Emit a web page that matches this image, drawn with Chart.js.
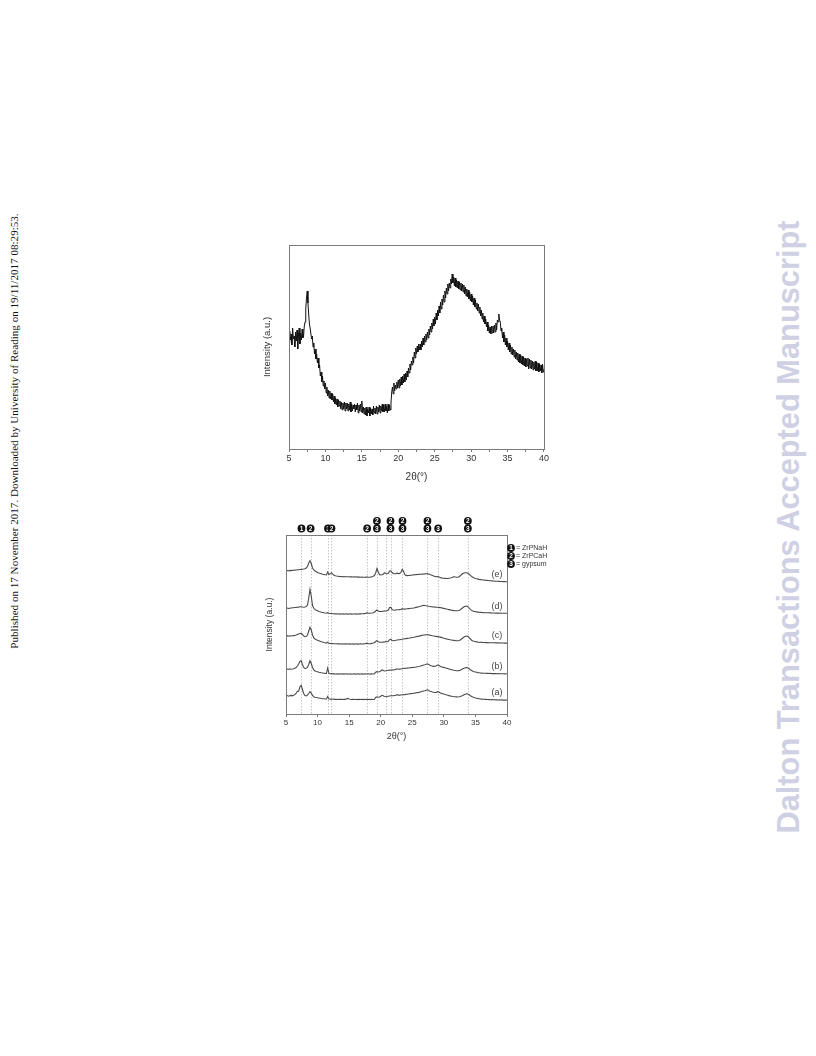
<!DOCTYPE html>
<html>
<head>
<meta charset="utf-8">
<script src="https://cdn.jsdelivr.net/npm/chart.js@4.4.1/dist/chart.umd.min.js"></script>
<style>
  body { margin: 0; background: #fff; width: 816px; height: 1056px; position: relative; overflow: hidden; }
  .plot { position: absolute; }
  .vtext { position: absolute; white-space: nowrap; transform: translate(-50%, -50%) rotate(-90deg); }
  #side { left: 14px; top: 431px; font-family: "Liberation Serif", serif; font-size: 11.1px; color: #111; }
  #mark { left: 789px; top: 527px; font-family: "Liberation Sans", Arial, sans-serif; font-weight: bold; font-size: 30.8px; color: #d0d0e4; }
</style>
</head>
<body>
<div id="side" class="vtext">Published on 17 November 2017. Downloaded by University of Reading on 19/11/2017 08:29:53.</div>
<div id="mark" class="vtext">Dalton Transactions Accepted Manuscript</div>

<div class="plot" style="left:250px;top:240px;width:300px;height:250px">
  <canvas id="topChart" width="300" height="250"></canvas>
</div>
<div class="plot" style="left:250px;top:505px;width:300px;height:240px">
  <canvas id="xrdChart" width="300" height="240"></canvas>
</div>

<script>
// top pattern: intensity every 0.1 deg from 5 to 40 (one row per degree)
const topIntensity = [
  106,118,109,115,104,121,110,113,102,117,
  108,119,100,114,121,105,116,109,120,111,
  113,123,127,140,151,158,146,135,125,121,
  121,110,113,102,106,95,100,90,95,86,
  91,81,84,73,77,67,73,63,68,60,
  66,56,62,53,59,51,58,50,56,49,
  55,47,53,45,51,44,50,42,49,43,
  48,40,47,39,46,40,47,38,46,40,
  46,38,45,39,47,37,45,38,44,40,
  45,37,44,39,46,36,44,38,45,37,
  48,36,42,35,41,34,42,33,40,36,
  42,33,41,35,40,34,43,36,41,35,
  43,35,42,37,44,36,43,38,45,37,
  44,37,45,38,43,36,45,38,44,39,
  46,57,62,55,66,58,64,60,67,61,
  69,61,70,63,72,64,73,66,75,67,
  76,69,78,72,81,76,85,79,88,84,
  92,86,97,91,101,95,103,97,105,99,
  105,99,108,102,111,104,113,107,115,109,
  117,111,120,114,123,117,126,120,130,123,
  132,125,136,129,139,133,143,136,147,140,
  150,144,154,147,158,151,161,155,165,158,
  166,161,170,165,175,166,172,163,171,162,
  169,161,168,160,167,159,166,158,165,157,
  164,155,162,153,160,152,159,150,157,148,
  155,147,153,144,151,142,149,140,146,138,
  145,136,142,133,139,130,136,127,133,125,
  130,122,127,118,124,116,122,115,123,116,
  123,116,124,117,126,119,129,127,135,129,
  127,118,121,111,117,107,114,104,111,102,
  108,99,106,97,104,95,102,94,100,92,
  99,90,97,89,96,87,95,86,94,85,
  93,84,92,83,91,82,90,83,91,80,
  90,81,89,80,88,79,87,80,88,78,
  87,78,86,77,85,78,84,76,85,77,
  80
];

// stacked patterns (a)-(e): intensity every 0.2 deg from 5 to 40 (one row per degree)
const patternA = [
  18,18.5,17.8,18.3,18.6, 18.2,18.8,19.5,20.5,22.5, 23,27,28.7,24.5,20.5, 18.5,18,18.8,20.5,22.3,
  21,18.5,17.2,16.8,16.5, 16.2,16,15.8,15.5,15.3, 15.2,15,15.1,17.5,15, 14.8,15,14.7,14.9,14.6,
  14.7,14.5,14.8,14.6,14.7, 14.5,14.8,14.6,15.2,15.6, 15.1,14.7,14.5,14.8,14.6, 14.5,14.7,14.4,14.6,14.5,
  14.7,14.4,14.6,14.5,14.8, 14.5,14.7,14.4,14.6,14.5, 14.8,16.5,17.2,16.8,17, 17.8,18.7,18.2,17.5,17.2,
  17.5,17.8,18,18.2,18.3, 18.2,18.5,18.8,19.3,18.8, 18.9,19,19.2,19.5,19.3, 19.6,19.8,20,20.2,20.4,
  20.5,20.7,20.9,21.2,21.4, 21.6,21.9,22.3,22.7,23, 23.3,23.8,24.2,23.6,22.8, 22.4,22,21.7,21.5,21.6,
  22.3,22,21.2,20.6,20.3, 20,19.5,19.2,18.8,18.4, 18.1,17.8,17.5,17.3,17.2, 17.1,17,17.2,17.5,18,
  18.6,19.3,19.8,20.2,20, 19.3,18.3,17.5,16.9,16.4, 16,15.7,15.4,15.2,15, 14.9,14.8,14.7,14.6,14.5,
  14.5,14.4,14.3,14.4,14.2, 14.3,14.1,14.2,14,14.1, 14,14.1,13.9,14,13.9, 14
];
const patternB = [
  44.7,45,44.5,45.2,44.8, 45,45.3,45.8,46.5,48, 50,52.5,53.3,49.5,46.5, 45.5,45.7,46.5,49.5,53.3,
  50.5,46.5,44,43,42.5, 42.3,41.8,41.5,41.2,41, 40.8,40.6,40.5,46,40.5, 40.3,40.4,40.1,40.3,40,
  40.2,39.9,40.1,40,40.2, 39.9,40.1,40,40.2,39.9, 40,40.1,39.8,40,40.1, 39.9,40,40.2,39.9,40,
  40.1,39.9,40,40.3,40, 40.1,40,39.9,40.1,40, 40.3,41.8,42.3,42,42.2, 43,44,43.5,43,43.2,
  43.5,43.8,44,43.8,44.2, 44,44.3,44.6,45.2,44.8, 44.9,45,45.3,45.5,45.6, 45.7,45.9,46,46.2,46.4,
  46.5,46.6,46.8,47,47.3, 47.5,47.8,48.2,48.6,49, 49.3,49.7,50.2,49.6,48.8, 48.3,47.9,47.6,47.8,48.3,
  49,48.7,47.8,47.2,46.8, 46.6,46.2,45.8,45.4,45, 44.6,44.3,44,43.7,43.5, 43.3,43.2,43.4,43.8,44.5,
  45.2,45.8,46.2,46.4,46.1, 45.3,44.3,43.5,42.8,42.3, 42,41.7,41.4,41.2,41, 40.9,40.8,40.7,40.8,40.6,
  40.6,40.5,40.6,40.4,40.5, 40.4,40.5,40.3,40.4,40.2, 40.3,40.2,40.3,40.1,40.2, 40.2
];
const patternC = [
  78,78.3,77.8,78.2,78, 78.2,78.4,78.6,78.9,79.5, 80,80.5,80.7,79.5,78, 77.3,77.5,79,83,86.7,
  84,79,76,75,74.2, 73.8,73.3,72.8,72.3,71.9, 71.5,71.2,70.9,71.8,70.7, 70.5,70.6,70.4,70.3,70.2,
  70.3,70.1,70.2,70,70.1, 70,70.2,69.9,70.1,70, 70.1,69.9,70,70.1,69.9, 70,70.1,69.9,70,70.2,
  70,70.1,70.3,70.4,70.8, 70.4,70.3,70.4,70.6,71, 71.3,72.5,73.3,72.3,71.8, 71.7,71.8,71.9,72,72.4,
  72.3,72.8,74.3,74.7,73.5, 73.3,73.5,73.7,74,74.2, 74.3,74.5,74.7,75,75.2, 75.4,75.6,75.8,76,76.3,
  76.5,76.7,77,77.3,77.6, 77.8,78.1,78.4,78.7,79, 79.1,79.3,79.3,79.1,78.8, 78.5,78.2,78,77.8,77.6,
  77.4,77.2,76.9,76.6,76.2, 75.8,75.5,75.1,74.8,74.5, 74.2,74,73.8,73.6,73.4, 73.3,73.2,73.5,74,75,
  76,77,77.7,78,77.6, 76.5,75,73.8,73.1,72.7, 72.3,72.1,71.9,71.8,71.7, 71.6,71.5,71.5,71.4,71.4,
  71.4,71.3,71.3,71.2,71.2, 71.2,71.1,71.2,71.1,71, 71.1,71,71,70.9,71, 70.9
];
const patternD = [
  105.7,106,105.5,105.8,106, 106.2,106.3,106.5,106.6,106.8, 106.9,107.2,107.3,107,106.8, 107,107.5,109,116,124.7,
  118,108.5,105.7,104.5,103.8, 103.2,102.6,102.2,101.8,101.5, 101.2,101,100.8,101.3,100.7, 100.5,100.6,100.3,100.2,100.1,
  100.2,100,100.1,99.9,100, 100.1,99.9,100,100.1,99.9, 100,100.1,99.9,100,100, 100.1,99.9,100,100.2,100.1,
  100.2,100.3,100.4,100.5,101.3, 100.8,100.7,100.8,101,101.3, 101.8,103,104,103,102.6, 102.5,102.6,102.8,103.2,103,
  103.3,104,106.5,106.7,104.5, 104,103.8,104,104.2,104.3, 104.4,104.5,105.3,105,104.9, 105,105.2,105.4,105.5,105.7,
  105.8,106,106.3,106.6,106.9, 107.2,107.5,107.9,108.3,108.7, 108.5,108.2,108,107.7,107.5, 107.3,107.1,107,106.9,106.8,
  106.7,106.6,106.4,106.2,105.9, 105.6,105.3,105,104.7,104.4, 104.1,103.8,103.6,103.4,103.3, 103.2,103.2,103.5,104.2,105.3,
  106.3,107.2,107.8,108,107.4, 106,104.6,103.6,103,102.6, 102.3,102.1,101.9,101.7,101.6, 101.5,101.4,101.3,101.3,101.2,
  101.2,101.1,101.1,101,101, 101,100.9,101,100.9,100.8, 100.9,100.8,100.8,100.7,100.8, 100.7
];
const patternE = [
  143.3,143.5,143.2,143.6,143.4, 143.6,143.7,143.9,144,144.2, 144.3,144.5,144.6,144.8,145, 145.3,146,147.5,151,153.3,
  150.5,146,144,143,142.2, 141.6,141,140.6,140.2,139.8, 139.5,139.2,139,142,139.5, 140.2,141.3,139.8,138.8,138.3,
  138,137.8,137.6,137.5,137.4, 137.3,137.4,137.2,137.3,137.2, 137.3,137.1,137.2,137,137.1, 137,137.1,136.9,137,136.8,
  136.9,136.8,136.7,136.6,137.2, 136.8,136.7,136.9,137.2,137.8, 138.5,141,145.5,142,139.5, 139,139.2,139.8,141.3,140.5,
  140.2,140.5,143,143.2,141.5, 140.5,140.3,140.4,140.8,140.3, 140.6,141.5,144.7,143,139.6, 138.6,138.4,138.5,138.6,138.8,
  139,139.1,139.2,139.4,139.5, 139.6,139.7,139.8,139.9,140, 140.1,140.2,140.4,140.1,139.5, 139,138.5,138,137.6,137.3,
  137.4,137.2,136.4,136.1,135.8, 135.7,135.6,135.5,135.6,135.8, 136,136.3,136.8,137.5,137, 136.7,136.8,137.3,138.2,139.5,
  140.4,141,141.3,141.3,140.8, 139.8,138.6,137.5,136.7,136, 135.5,135.2,134.9,134.6,134.4, 134.2,134,133.9,133.7,133.6,
  133.5,133.3,133.2,133.1,133, 132.9,132.8,132.7,132.7,132.6, 132.5,132.5,132.4,132.4,132.3, 132.3
];
const patternNames = ["(a)", "(b)", "(c)", "(d)", "(e)"];

// reflection positions (2theta) with phase markers: 1 = ZrPNaH, 2 = ZrPCaH, 3 = gypsum
const refLines = [7.45, 8.9, 11.65, 12.2, 17.85, 19.4, 20.8, 21.55, 23.45, 27.4, 29.1, 33.8];
const refUpper = [null, null, null, null, null, 2, null, 2, 2, 2, null, 2];
const refLower = [1, 2, 3, 2, 2, 3, null, 3, 3, 3, 3, 3];
const phaseNames = ["ZrPNaH", "ZrPCaH", "gypsum"];

const angleTicks = [5, 10, 15, 20, 25, 30, 35, 40];
const angleMinorTicks = [7.5, 12.5, 17.5, 22.5, 27.5, 32.5, 37.5];

// sampling grids of the two scans
const topAngles = topIntensity.map((_, i) => 5 + i / 10);
const xrdAngles = patternA.map((_, i) => 5 + i / 5);

const FONT = "'Liberation Sans', Arial, sans-serif";
Chart.defaults.font.family = FONT;
Chart.defaults.color = "#333";

const frame = {
  id: "frame",
  afterDatasetsDraw(chart) {
    const { ctx, chartArea: a } = chart;
    ctx.save();
    ctx.strokeStyle = "#7a7a7a";
    ctx.lineWidth = 1;
    ctx.strokeRect(a.left + 0.5, a.top + 0.5, a.right - a.left, a.bottom - a.top);
    ctx.restore();
  }
};

function axisX(titleText, fontSize, titlePad, height, withMinor) {
  const all = withMinor ? angleTicks.concat(angleMinorTicks).sort((p, q) => p - q) : angleTicks;
  return {
    type: "linear",
    min: 5,
    max: 40,
    afterBuildTicks: s => { s.ticks = all.map(v => ({ value: v })); },
    ticks: {
      font: { size: fontSize }, color: "#333", padding: 1, maxRotation: 0, autoSkip: false,
      callback: v => (angleTicks.includes(v) ? String(v) : "")
    },
    grid: { drawOnChartArea: false, tickLength: 3, color: "#7a7a7a" },
    border: { display: false },
    title: { display: true, text: titleText, font: { size: fontSize + 1 }, color: "#333", padding: { top: 0, bottom: titlePad } },
    afterFit: s => { s.height = height; }
  };
}

function axisY(min, max, fontSize, titlePad, width) {
  return {
    type: "linear",
    min: min,
    max: max,
    ticks: { display: false },
    grid: { display: false },
    border: { display: false },
    title: { display: true, text: "Intensity (a.u.)", font: { size: fontSize }, color: "#333", padding: { top: titlePad, bottom: 0 } },
    afterFit: s => { s.width = width; }
  };
}

new Chart(document.getElementById("topChart"), {
  type: "line",
  data: {
    datasets: [{
      data: topAngles.map((x, i) => ({ x: x, y: topIntensity[i] })),
      borderColor: "#111",
      borderWidth: 1,
      pointRadius: 0,
      tension: 0
    }]
  },
  options: {
    responsive: false,
    devicePixelRatio: 1,
    animation: false,
    layout: { padding: { left: 0, right: 6, top: 5, bottom: 0 } },
    plugins: { legend: { display: false }, tooltip: { enabled: false } },
    scales: {
      x: axisX("2θ(°)", 9, 7, 41, true),
      y: axisY(0, 204, 9.5, 12, 39)
    }
  },
  plugins: [frame]
});

const xrdDecor = {
  id: "xrdDecor",
  beforeDatasetsDraw(chart) {
    const { ctx, chartArea: a, scales: { x } } = chart;
    ctx.save();
    ctx.strokeStyle = "#b8b8b8";
    ctx.lineWidth = 0.8;
    ctx.setLineDash([1.5, 1.5]);
    refLines.forEach(v => {
      const px = Math.round(x.getPixelForValue(v)) + 0.5;
      ctx.beginPath();
      ctx.moveTo(px, a.top);
      ctx.lineTo(px, a.bottom);
      ctx.stroke();
    });
    ctx.restore();
  },
  afterDraw(chart) {
    const { ctx, chartArea: a, scales: { x, y } } = chart;
    const badge = (cx, cy, n) => {
      ctx.fillStyle = "#111";
      ctx.beginPath();
      ctx.arc(cx, cy, 3.9, 0, Math.PI * 2);
      ctx.fill();
      ctx.fillStyle = "#fff";
      ctx.font = "bold 6.5px " + FONT;
      ctx.textAlign = "center";
      ctx.textBaseline = "middle";
      ctx.fillText(String(n), cx, cy + 0.3);
    };
    ctx.save();
    refLines.forEach((v, i) => {
      const px = x.getPixelForValue(v);
      if (refLower[i]) badge(px, a.top - 6.5, refLower[i]);
      if (refUpper[i]) badge(px, a.top - 14, refUpper[i]);
    });
    // phase key
    phaseNames.forEach((name, i) => {
      const cy = a.top + 13 + i * 8;
      badge(a.right + 4, cy, i + 1);
      ctx.fillStyle = "#333";
      ctx.font = "7px " + FONT;
      ctx.textAlign = "left";
      ctx.textBaseline = "middle";
      ctx.fillText("= " + name, a.right + 9, cy + 0.5);
    });
    // pattern labels
    ctx.fillStyle = "#444";
    ctx.font = "9px " + FONT;
    ctx.textAlign = "center";
    ctx.textBaseline = "middle";
    [patternA, patternB, patternC, patternD, patternE].forEach((p, i) => {
      ctx.fillText(patternNames[i], x.getPixelForValue(38.4), y.getPixelForValue(p[p.length - 8]) - 7);
    });
    ctx.restore();
  }
};

new Chart(document.getElementById("xrdChart"), {
  type: "line",
  data: {
    datasets: [patternA, patternB, patternC, patternD, patternE].map((p, k) => ({
      label: patternNames[k],
      data: xrdAngles.map((x, i) => ({ x: x, y: p[i] })),
      borderColor: "#4a4a4a",
      borderWidth: 1.1,
      pointRadius: 0,
      tension: 0
    }))
  },
  options: {
    responsive: false,
    devicePixelRatio: 1,
    animation: false,
    layout: { padding: { left: 0, right: 43, top: 30, bottom: 0 } },
    plugins: { legend: { display: false }, tooltip: { enabled: false } },
    scales: {
      x: axisX("2θ(°)", 8, 3, 31, false),
      y: axisY(0, 179, 8.5, 15, 36)
    }
  },
  plugins: [frame, xrdDecor]
});
</script>
</body>
</html>
